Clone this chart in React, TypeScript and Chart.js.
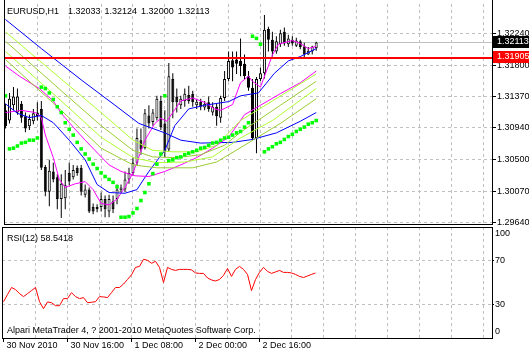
import React, { useEffect, useRef } from 'react';
import { Chart, registerables } from 'chart.js';

Chart.register(...registerables);

const FONT = '"Liberation Sans", Arial, sans-serif';

const SYMBOL = 'EURUSD,H1';
const LAST_OHLC = [1.32033, 1.32124, 1.32, 1.32113];

const OPEN = [
  1.3118, 1.3104, 1.3125, 1.3115, 1.3127, 1.311, 1.3096, 1.3103, 1.3115, 1.312,
  1.304, 1.3006, 1.3034, 1.3026, 1.2996, 1.2997, 1.3032, 1.3026, 1.3039, 1.3039,
  1.3002, 1.3009, 1.2985, 1.2985, 1.2985, 1.2996, 1.2979, 1.2993, 1.2996, 1.3008,
  1.3009, 1.3023, 1.3032, 1.3046, 1.3077, 1.3066, 1.3111, 1.3102, 1.3107, 1.3131,
  1.31, 1.3064, 1.3161, 1.3137, 1.3125, 1.3131, 1.3139, 1.3141, 1.3125, 1.313,
  1.3122, 1.3129, 1.3115, 1.3123, 1.3108, 1.3135, 1.3161, 1.3187, 1.3188, 1.3186,
  1.3182, 1.3165, 1.3149, 1.308, 1.3161, 1.3169, 1.323, 1.3215, 1.3199, 1.3209,
  1.3226, 1.3209, 1.3215, 1.3207, 1.3213, 1.3206, 1.3195, 1.3199, 1.32033,
];
const HIGH = [
  1.3127, 1.3142, 1.315, 1.3148, 1.3131, 1.3115, 1.3112, 1.312, 1.3129, 1.3131,
  1.3043, 1.305, 1.3046, 1.303, 1.303, 1.3036, 1.3046, 1.3043, 1.3042, 1.3043,
  1.3016, 1.3012, 1.299, 1.2989, 1.3005, 1.3001, 1.3002, 1.3001, 1.3016, 1.3016,
  1.3034, 1.3039, 1.3053, 1.3093, 1.3093, 1.312, 1.3125, 1.312, 1.3138, 1.3138,
  1.3118, 1.3183, 1.3169, 1.3148, 1.3138, 1.3148, 1.3152, 1.3145, 1.3134, 1.3134,
  1.3131, 1.3137, 1.3129, 1.3127, 1.3138, 1.3172, 1.3199, 1.3199, 1.3199, 1.3217,
  1.3195, 1.3172, 1.3161, 1.3164, 1.3177, 1.3249, 1.3233, 1.3226, 1.322, 1.3229,
  1.3232, 1.3222, 1.322, 1.3218, 1.3215, 1.3211, 1.3205, 1.3207, 1.32124,
];
const LOW = [
  1.3093, 1.31, 1.3118, 1.3112, 1.3101, 1.3088, 1.3091, 1.3099, 1.3104, 1.3036,
  1.3, 1.2986, 1.3019, 1.2982, 1.297, 1.2982, 1.3015, 1.3023, 1.3028, 1.3001,
  1.2998, 1.2977, 1.2975, 1.2978, 1.2979, 1.2971, 1.2971, 1.2977, 1.2989, 1.3005,
  1.3006, 1.3017, 1.3028, 1.3043, 1.3057, 1.3064, 1.3093, 1.3097, 1.3104, 1.3091,
  1.3053, 1.3061, 1.3107, 1.3115, 1.312, 1.3123, 1.3127, 1.3123, 1.312, 1.3118,
  1.3118, 1.3116, 1.3111, 1.3097, 1.3101, 1.3131, 1.3158, 1.3158, 1.3168, 1.3165,
  1.3161, 1.3145, 1.3077, 1.3059, 1.3158, 1.3162, 1.3199, 1.3192, 1.3196, 1.3205,
  1.3207, 1.3205, 1.3207, 1.3205, 1.3202, 1.3191, 1.3194, 1.3195, 1.32,
];
const CLOSE = [
  1.3096, 1.3134, 1.3137, 1.3137, 1.3108, 1.3093, 1.3106, 1.3114, 1.311, 1.3039,
  1.3006, 1.3035, 1.3023, 1.2996, 1.3017, 1.3015, 1.302, 1.3036, 1.3032, 1.3006,
  1.3009, 1.2979, 1.2979, 1.2982, 1.2996, 1.2982, 1.2996, 1.2982, 1.3009, 1.3012,
  1.3023, 1.3032, 1.3046, 1.308, 1.3064, 1.3114, 1.31, 1.3115, 1.3134, 1.3095,
  1.3061, 1.3165, 1.3129, 1.3129, 1.3134, 1.3141, 1.3131, 1.3129, 1.313, 1.3123,
  1.3127, 1.312, 1.3123, 1.311, 1.3135, 1.3161, 1.3186, 1.3177, 1.3182, 1.3179,
  1.3165, 1.3149, 1.308, 1.3161, 1.3169, 1.3229, 1.3215, 1.3199, 1.3213, 1.3224,
  1.321, 1.3217, 1.321, 1.3214, 1.3205, 1.3195, 1.32, 1.3206, 1.32113,
];

const SAR = [
  1.3138, 1.3065, 1.3066, 1.3069, 1.3073, 1.3074, 1.3077, 1.3077, 1.308, 1.315,
  1.3148, 1.3142, 1.3133, 1.3123, 1.3115, 1.3101, 1.3092, 1.3084, 1.3074, 1.3065,
  1.3058, 1.3051, 1.3044, 1.3038, 1.3032, 1.3027, 1.3023, 1.3019, 1.3013, 1.2971,
  1.2971, 1.2972, 1.2977, 1.2983, 1.2994, 1.3005, 1.3017, 1.3031, 1.3044, 1.3058,
  1.3138, 1.3049, 1.305, 1.3053, 1.3054, 1.3057, 1.3059, 1.3061, 1.3063, 1.3066,
  1.3067, 1.307, 1.3073, 1.3074, 1.3077, 1.308, 1.3081, 1.3084, 1.3087, 1.3089,
  1.3095, 1.3101, 1.322, 1.3217, 1.3209, 1.3061, 1.3065, 1.3068, 1.3072, 1.3074,
  1.3078, 1.3082, 1.3085, 1.3089, 1.3092, 1.3095, 1.3099, 1.3101, 1.3104,
];

// [bar, price]
const BLUE_SLOW = [
  [0, 1.3243], [9, 1.3203], [19, 1.316], [27.5, 1.3125], [33.5, 1.31], [40, 1.3087],
  [44, 1.3077], [49, 1.3073], [57, 1.3074], [62, 1.3078], [68, 1.3087], [74, 1.3103], [78, 1.3115],
];
const BLUE_FAST = [
  [0, 1.3127], [3, 1.3114], [6, 1.3108], [9, 1.3111], [12, 1.3101], [16, 1.3077], [20, 1.305],
  [23, 1.3016], [26, 1.3005], [30, 1.3004], [33, 1.3009], [36, 1.3034], [40, 1.3063], [42.5, 1.3097],
  [46, 1.312], [50, 1.3125], [56, 1.313], [59, 1.3138], [63.5, 1.3142], [67.5, 1.3169], [71, 1.3186],
  [74, 1.3192], [78, 1.3203],
];
const MAGENTA_FAST = [
  [0, 1.3115], [4, 1.3118], [7.5, 1.3115], [9, 1.3108], [10, 1.3084], [12, 1.3053], [13.5, 1.3023],
  [15, 1.3012], [17.5, 1.3017], [20, 1.302], [22, 1.3009], [24, 1.299], [26, 1.2988], [28, 1.2996],
  [30, 1.3012], [32, 1.3032], [33.5, 1.3054], [35, 1.3077], [37.5, 1.31], [39, 1.3107], [40.5, 1.3103],
  [42, 1.3115], [44, 1.3131], [47, 1.3135], [50, 1.3129], [52.5, 1.312], [54, 1.3118], [57, 1.3126],
  [59, 1.3156], [61, 1.3165], [62, 1.3158], [64, 1.315], [65.5, 1.3172], [67, 1.3194], [68.5, 1.3209],
  [72, 1.3214], [74, 1.321], [76, 1.3203], [78, 1.3206],
];
const MAGENTA_SLOW = [
  [0, 1.3179], [3.5, 1.3165], [8.5, 1.3148], [12, 1.3131], [14, 1.3114], [17, 1.3095], [20, 1.3077],
  [23.5, 1.3057], [26, 1.3043], [29, 1.3034], [32.5, 1.3028], [36, 1.3027], [40, 1.3034], [44, 1.3043],
  [48, 1.3053], [52, 1.3066], [56, 1.3081], [60, 1.3112], [64, 1.3125], [69, 1.3141], [74, 1.3156], [78, 1.3172],
];
const GREEN_A = [
  [0, 1.3226], [14, 1.3161], [24, 1.3115], [32, 1.3077], [37, 1.3063], [42, 1.3061], [48, 1.3061],
  [53, 1.307], [59, 1.3104], [67, 1.3131], [78, 1.3168],
];
const GREEN_B = [
  [0, 1.3213], [14, 1.3145], [24, 1.3097], [32, 1.3063], [37, 1.3054], [43, 1.3053], [49, 1.3057],
  [55, 1.307], [59, 1.3088], [69, 1.3125], [78, 1.3158],
];
const GREEN_C = [
  [0, 1.3199], [14, 1.3131], [24, 1.3081], [32, 1.3053], [38, 1.3046], [45, 1.3047], [52, 1.3054],
  [59, 1.308], [67, 1.3104], [78, 1.3148],
];
const GREEN_D = [
  [0, 1.3188], [14, 1.3118], [24, 1.3066], [32, 1.3043], [38, 1.3039], [47, 1.3039], [53, 1.3047],
  [60, 1.307], [69, 1.31], [78, 1.3134],
];

const RSI = [
  32.7, 39.1, 45.5, 43.6, 40.0, 37.3, 40.0, 42.7, 45.5, 32.7,
  26.4, 32.5, 31.8, 29.1, 29.1, 35.5, 35.5, 40.9, 37.3, 35.5,
  36.4, 31.8, 32.2, 32.7, 37.3, 37.0, 36.4, 40.9, 45.5, 45.5,
  48.6, 52.7, 56.9, 63.6, 64.5, 70.9, 70.0, 67.3, 69.1, 63.6,
  50.0, 63.6, 61.8, 60.9, 61.8, 61.8, 61.8, 61.4, 58.6, 58.2,
  58.2, 54.1, 52.3, 51.4, 52.7, 56.4, 62.7, 55.5, 61.8, 64.5,
  61.8, 57.3, 42.7, 52.7, 59.1, 63.6, 60.0, 58.2, 59.5, 60.9,
  59.1, 59.1, 58.6, 57.3, 55.5, 54.5, 55.9, 57.3, 58.5418,
];
const RSI_PERIOD = 12;

const BID_PRICE = 1.32113;
const LEVEL_PRICE = 1.31905;
const PRICE_TICKS = [1.2964, 1.3007, 1.305, 1.3094, 1.3137, 1.318, 1.3224];
const PRICE_MIN = 1.29617;
const PRICE_MAX = 1.32643;

const RSI_TICK_VALUES = [5.4, 30, 70, 93.7];
const RSI_TICK_LABELS = ['0', '30', '70', '100'];
const RSI_GRID_LEVELS = [30, 70];

const TIME_TICKS = [0, 16, 32, 48, 64];
const TIME_LABELS = ['30 Nov 2010', '30 Nov 16:00', '1 Dec 08:00', '2 Dec 00:00', '2 Dec 16:00'];
const GRID_STEP = 8;
const X_MIN = -0.375;
const X_MAX = 122.125;

const COPYRIGHT = 'Alpari MetaTrader 4, ? 2001-2010 MetaQuotes Software Corp.';

const GRID_TICKS: number[] = [];
for (let v = GRID_STEP; v <= X_MAX; v += GRID_STEP) GRID_TICKS.push(v);

const GRID_COLOR = '#c0c0c0';
const CLEAR = 'rgba(0,0,0,0)';

const toPts = (arr: number[][]) => arr.map(([x, y]) => ({ x, y }));

function lineDs(arr: number[][], color: string, order = 1) {
  return {
    type: 'line' as const,
    data: toPts(arr),
    borderColor: color,
    borderWidth: 1,
    pointRadius: 0,
    tension: 0,
    fill: false,
    order,
  };
}

function hRule(chart: any, price: number, color: string, thickness: number) {
  const { ctx, chartArea: a, scales } = chart;
  const row = Math.floor(scales.y.getPixelForValue(price));
  ctx.save();
  ctx.fillStyle = color;
  ctx.fillRect(a.left, row, a.right - a.left, thickness);
  ctx.restore();
}

const mainDecor = {
  id: 'mainDecor',
  beforeDatasetsDraw(chart: any) {
    hRule(chart, BID_PRICE, '#c0c0c0', 1);
  },
  afterDatasetsDraw(chart: any) {
    hRule(chart, LEVEL_PRICE, '#ff0000', 2);
  },
  afterDraw(chart: any) {
    const { ctx, chartArea: a, scales, width } = chart;
    const y = scales.y;
    ctx.save();
    ctx.fillStyle = '#000000';
    ctx.fillRect(a.left, 0, 1, a.bottom);
    ctx.fillRect(a.right, 0, 1, a.bottom);
    const boxes: [number, string][] = [
      [BID_PRICE, '#000000'],
      [LEVEL_PRICE, '#ff0000'],
    ];
    ctx.font = `9px ${FONT}`;
    ctx.textBaseline = 'middle';
    ctx.textAlign = 'left';
    for (const [p, c] of boxes) {
      const py = Math.floor(y.getPixelForValue(p));
      ctx.fillStyle = c;
      ctx.fillRect(a.right + 1, py - 6, width - a.right - 1, 12);
      ctx.fillStyle = '#ffffff';
      ctx.fillText(p.toFixed(5), a.right + 5, py);
    }
    ctx.restore();
  },
};

const rsiDecor = {
  id: 'rsiDecor',
  afterDraw(chart: any) {
    const { ctx, chartArea: a } = chart;
    ctx.save();
    ctx.fillStyle = '#000000';
    ctx.fillRect(a.left, a.top, a.right - a.left + 1, 1);
    ctx.fillRect(a.left, a.top, 1, a.bottom - a.top + 1);
    ctx.fillRect(a.right, a.top, 1, a.bottom - a.top + 1);
    ctx.fillRect(a.left, a.bottom, a.right - a.left + 1, 1);
    ctx.restore();
  },
};

const zeroPad = (s: any) => {
  s.paddingTop = 0;
  s.paddingBottom = 0;
  s.paddingLeft = 0;
  s.paddingRight = 0;
};

export default function App() {
  const mainRef = useRef<HTMLCanvasElement>(null);
  const rsiRef = useRef<HTMLCanvasElement>(null);

  useEffect(() => {
    const bars = OPEN.map((_, i) => i);
    const main = new Chart(mainRef.current as HTMLCanvasElement, {
      type: 'bar',
      data: {
        datasets: [
          {
            type: 'bar',
            data: bars.map((i) => ({ x: i, y: [LOW[i], HIGH[i]] })) as any,
            backgroundColor: '#000000',
            borderWidth: 0,
            barThickness: 1,
            grouped: false,
            inflateAmount: 0,
            order: 3,
          } as any,
          {
            type: 'bar',
            data: bars.map((i) => ({ x: i, y: [OPEN[i], CLOSE[i]] })) as any,
            backgroundColor: bars.map((i) => (CLOSE[i] >= OPEN[i] ? '#ffffff' : '#000000')),
            borderColor: '#000000',
            borderWidth: 1,
            borderSkipped: false,
            barThickness: 3,
            grouped: false,
            inflateAmount: 0,
            order: 2,
          } as any,
          lineDs(GREEN_D, '#9acd32'),
          lineDs(GREEN_C, '#adff2f'),
          lineDs(GREEN_B, '#9acd32'),
          lineDs(GREEN_A, '#adff2f'),
          lineDs(MAGENTA_SLOW, '#ff00ff'),
          lineDs(BLUE_SLOW, '#0000ff'),
          lineDs(BLUE_FAST, '#0000ff'),
          lineDs(MAGENTA_FAST, '#ff00ff'),
          {
            type: 'line',
            data: bars.map((i) => ({ x: i, y: SAR[i] })),
            showLine: false,
            pointStyle: 'rect',
            pointRadius: 2.5,
            pointBackgroundColor: '#00ff00',
            pointBorderWidth: 0,
            borderColor: '#00ff00',
            order: 0,
          } as any,
        ],
      },
      options: {
        responsive: false,
        animation: false,
        devicePixelRatio: 1,
        events: [],
        layout: { padding: { left: 2, top: 2, right: 0, bottom: 3 } },
        plugins: { legend: { display: false }, tooltip: { enabled: false } },
        scales: {
          x: {
            type: 'linear',
            min: X_MIN,
            max: X_MAX,
            offset: false,
            afterBuildTicks: (s: any) => {
              s.ticks = GRID_TICKS.map((v) => ({ value: v }));
            },
            afterFit: (s: any) => {
              s.height = 0;
              zeroPad(s);
            },
            ticks: { display: false },
            grid: { offset: false, color: GRID_COLOR, drawTicks: false, lineWidth: 1 },
            border: { display: true, color: '#000000', dash: [3, 3] },
          } as any,
          y: {
            type: 'linear',
            position: 'right',
            min: PRICE_MIN,
            max: PRICE_MAX,
            beginAtZero: false,
            afterBuildTicks: (s: any) => {
              s.ticks = PRICE_TICKS.map((v) => ({ value: v }));
            },
            afterFit: (s: any) => {
              s.width = 37;
              zeroPad(s);
            },
            ticks: {
              autoSkip: false,
              padding: 1,
              color: '#000000',
              font: { family: FONT, size: 9 },
              callback: (v: any) => Number(v).toFixed(5),
            },
            grid: { color: GRID_COLOR, tickColor: '#000000', tickLength: 4, tickBorderDash: [] },
            border: { display: true, color: '#000000', dash: [3, 3] },
          } as any,
        },
      },
      plugins: [mainDecor],
    });

    const rsiXTicks = Array.from(new Set([...TIME_TICKS, ...GRID_TICKS])).sort((a, b) => a - b);
    const rsi = new Chart(rsiRef.current as HTMLCanvasElement, {
      type: 'line',
      data: {
        datasets: [
          {
            data: RSI.map((v, i) => ({ x: i, y: v })),
            borderColor: '#ff0000',
            borderWidth: 1,
            pointRadius: 0,
            tension: 0,
            fill: false,
          },
        ],
      },
      options: {
        responsive: false,
        animation: false,
        devicePixelRatio: 1,
        events: [],
        layout: { padding: { left: 2, top: 1, right: 0, bottom: 0 } },
        plugins: { legend: { display: false }, tooltip: { enabled: false } },
        scales: {
          x: {
            type: 'linear',
            min: X_MIN,
            max: X_MAX,
            offset: false,
            afterBuildTicks: (s: any) => {
              s.ticks = rsiXTicks.map((v) => ({ value: v }));
            },
            afterFit: (s: any) => {
              s.height = 17;
              zeroPad(s);
            },
            ticks: {
              autoSkip: false,
              maxRotation: 0,
              minRotation: 0,
              align: 'start',
              labelOffset: 3,
              padding: -2,
              color: '#000000',
              font: { family: FONT, size: 9 },
              callback: (v: any) => {
                const k = TIME_TICKS.indexOf(Number(v));
                return k >= 0 ? TIME_LABELS[k] : '';
              },
            },
            grid: {
              offset: false,
              color: (c: any) => (c.tick && c.tick.value > 0 && c.tick.value % GRID_STEP === 0 ? GRID_COLOR : CLEAR),
              tickColor: (c: any) => (c.tick && TIME_TICKS.includes(c.tick.value) ? '#000000' : CLEAR),
              tickLength: 4,
              tickBorderDash: [],
            },
            border: { display: true, color: '#000000', dash: [3, 3] },
          } as any,
          y: {
            type: 'linear',
            position: 'right',
            min: 0,
            max: 100,
            afterBuildTicks: (s: any) => {
              s.ticks = RSI_TICK_VALUES.map((v) => ({ value: v }));
            },
            afterFit: (s: any) => {
              s.width = 37;
              zeroPad(s);
            },
            ticks: {
              autoSkip: false,
              padding: 1,
              color: '#000000',
              font: { family: FONT, size: 9 },
              callback: (_v: any, i: number) => RSI_TICK_LABELS[i],
            },
            grid: {
              color: (c: any) => (c.tick && RSI_GRID_LEVELS.includes(c.tick.value) ? GRID_COLOR : CLEAR),
              tickColor: (c: any) => (c.tick && RSI_GRID_LEVELS.includes(c.tick.value) ? '#000000' : CLEAR),
              tickLength: 2,
              tickBorderDash: [],
            },
            border: { display: true, color: '#000000', dash: [3, 3] },
          } as any,
        },
      },
      plugins: [rsiDecor],
    });

    return () => {
      main.destroy();
      rsi.destroy();
    };
  }, []);

  const textStyle: React.CSSProperties = {
    position: 'absolute',
    left: 7,
    fontFamily: FONT,
    fontSize: 9,
    lineHeight: '9px',
    color: '#000',
    whiteSpace: 'pre',
  };

  return (
    <div style={{ position: 'absolute', left: 0, top: 0, width: 529, height: 355, background: '#fff', overflow: 'hidden' }}>
      <canvas ref={mainRef} width={529} height={228} style={{ position: 'absolute', left: 0, top: 0 }} />
      <canvas ref={rsiRef} width={529} height={129} style={{ position: 'absolute', left: 0, top: 226 }} />
      <div style={{ ...textStyle, top: 7 }}>
        <span style={{ marginRight: 9 }}>{SYMBOL}</span>
        {LAST_OHLC.map((v, i) => (
          <span key={i} style={{ marginRight: 4 }}>
            {v.toFixed(5)}
          </span>
        ))}
      </div>
      <div style={{ ...textStyle, top: 234 }}>{`RSI(${RSI_PERIOD}) ${RSI[RSI.length - 1].toFixed(4)}`}</div>
      <div style={{ ...textStyle, top: 326 }}>{COPYRIGHT}</div>
    </div>
  );
}
